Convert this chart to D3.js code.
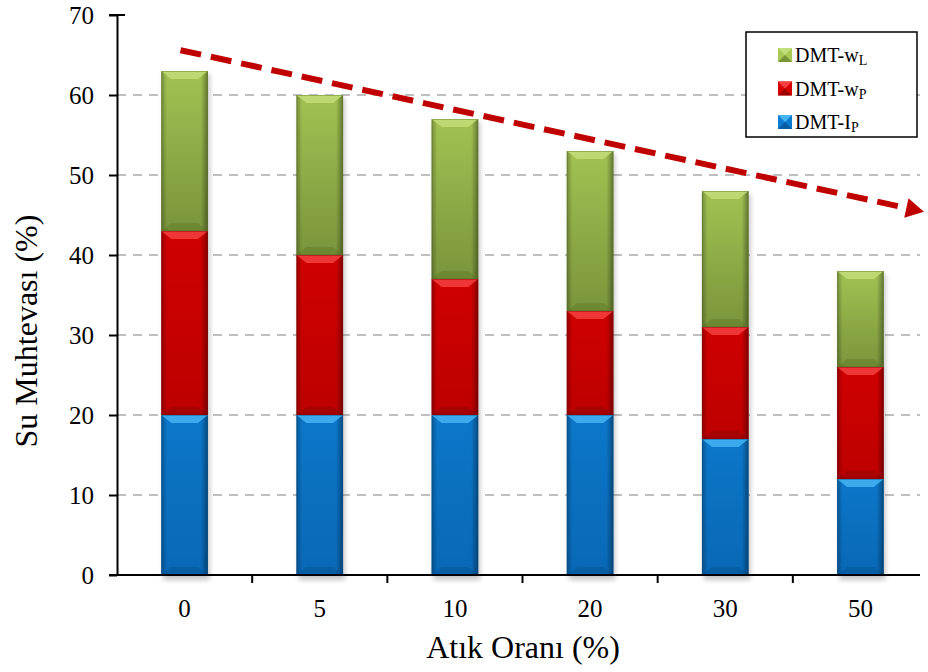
<!DOCTYPE html>
<html>
<head>
<meta charset="utf-8">
<script src="https://cdn.jsdelivr.net/npm/d3@7"></script>
<style>
  html, body { margin: 0; padding: 0; background: #fff; }
  svg { display: block; font-family: "Liberation Serif", "Times New Roman", serif; }
</style>
</head>
<body>
<svg id="chart" width="928" height="672"></svg>
<script>
// Atık oranı (%) categories and the three consistency limits (%)
const categories = ["0", "5", "10", "20", "30", "50"];
const plasticityIndex = [20, 20, 20, 20, 17, 12];   // DMT-Ip
const plasticLimit    = [43, 40, 37, 33, 31, 26];   // DMT-wP
const liquidLimit     = [63, 60, 57, 53, 48, 38];   // DMT-wL
const yTicks = [0, 10, 20, 30, 40, 50, 60, 70];
// Trend arrow: from the first category down past the last one
const trendStart = { cat: 0, offset: -0.03, value: 65.6 };
const trendEnd   = { cat: 5, offset: 0.47, value: 45.4 };

const svg = d3.select("#chart");
const margin = { left: 117, right: 0, top: 15, bottom: 97 };
const W = 928, H = 672;

const x = d3.scaleBand().domain(categories).range([margin.left, W - margin.right]).paddingInner(0).paddingOuter(0);
const y = d3.scaleLinear().domain([0, 70]).range([H - margin.bottom, margin.top]);
const barW = x.bandwidth() * 0.345;

const series = [
  { key: "ip", label: "DMT-I", sub: "P", lo: categories.map(() => 0), hi: plasticityIndex,
    c1: "#0c7cd1", c2: "#096cbd", light: "#45b4f3", dark: "#044a85" },
  { key: "wp", label: "DMT-w", sub: "P", lo: plasticityIndex, hi: plasticLimit,
    c1: "#d80000", c2: "#c50000", light: "#f44040", dark: "#7a0000" },
  { key: "wl", label: "DMT-w", sub: "L", lo: plasticLimit, hi: liquidLimit,
    c1: "#a8ca55", c2: "#7f9b3e", light: "#c2de78", dark: "#566f22" }
];

const defs = svg.append("defs");
series.forEach(s => {
  const v = defs.append("linearGradient").attr("id", "v-" + s.key).attr("x1", 0).attr("x2", 0).attr("y1", 0).attr("y2", 1);
  v.append("stop").attr("offset", 0).attr("stop-color", s.c1);
  v.append("stop").attr("offset", 1).attr("stop-color", s.c2);
});
const side = defs.append("linearGradient").attr("id", "side").attr("x1", 0).attr("x2", 1).attr("y1", 0).attr("y2", 0);
side.append("stop").attr("offset", 0).attr("stop-color", "#000").attr("stop-opacity", 0.3);
side.append("stop").attr("offset", 0.12).attr("stop-color", "#000").attr("stop-opacity", 0.04);
side.append("stop").attr("offset", 0.85).attr("stop-color", "#000").attr("stop-opacity", 0.04);
side.append("stop").attr("offset", 1).attr("stop-color", "#000").attr("stop-opacity", 0.4);
const shadow = defs.append("filter").attr("id", "shadow").attr("x", -0.3).attr("y", -0.3).attr("width", 1.6).attr("height", 1.6);
shadow.append("feGaussianBlur").attr("stdDeviation", 2.5);

// Horizontal dashed gridlines
svg.append("g").selectAll("line").data(yTicks.filter(t => t > 0 && t < 70)).join("line")
  .attr("x1", margin.left).attr("x2", W - 8)
  .attr("y1", d => y(d)).attr("y2", d => y(d))
  .attr("stroke", "#bfbfbf").attr("stroke-width", 2).attr("stroke-dasharray", "9,7");

// Soft shadow under each bar
svg.append("g").selectAll("rect").data(categories).join("rect")
  .attr("x", d => x(d) + (x.bandwidth() - barW) / 2 + 2)
  .attr("y", (d, i) => y(liquidLimit[i]) + 3)
  .attr("width", barW)
  .attr("height", (d, i) => y(0) - y(liquidLimit[i]) + 2)
  .attr("fill", "#000").attr("opacity", 0.22).attr("filter", "url(#shadow)");

// Bevelled stacked segments
function bevel(g, x0, y0, w, h, s) {
  const b = Math.min(8, h / 3), inset = Math.min(10, w / 4);
  g.append("rect").attr("x", x0).attr("y", y0).attr("width", w).attr("height", h).attr("fill", "url(#v-" + s.key + ")");
  g.append("rect").attr("x", x0).attr("y", y0).attr("width", w).attr("height", h).attr("fill", "url(#side)");
  // top highlight facet
  g.append("path")
    .attr("d", `M${x0},${y0}H${x0 + w}L${x0 + w - inset},${y0 + b}H${x0 + inset}Z`)
    .attr("fill", s.light).attr("opacity", 0.85);
  // bottom shaded facet
  g.append("path")
    .attr("d", `M${x0},${y0 + h}H${x0 + w}L${x0 + w - inset},${y0 + h - b}H${x0 + inset}Z`)
    .attr("fill", s.dark).attr("opacity", 0.35);
  g.append("rect").attr("x", x0 + 0.5).attr("y", y0 + 0.5).attr("width", w - 1).attr("height", h - 1)
    .attr("fill", "none").attr("stroke", s.dark).attr("stroke-opacity", 0.4).attr("stroke-width", 1);
}

const bars = svg.append("g");
series.forEach(s => {
  categories.forEach((c, i) => {
    const x0 = x(c) + (x.bandwidth() - barW) / 2;
    const y0 = y(s.hi[i]);
    const h = y(s.lo[i]) - y(s.hi[i]);
    bevel(bars.append("g"), x0, y0, barW, h, s);
  });
});

// Y axis
const yAxis = svg.append("g").attr("transform", `translate(${margin.left},0)`)
  .call(d3.axisLeft(y).tickValues(yTicks).tickSize(8).tickSizeOuter(0).tickPadding(15));
yAxis.select(".domain").attr("stroke", "#000").attr("stroke-width", 2);
yAxis.selectAll(".tick line").attr("stroke", "#000").attr("stroke-width", 2);
yAxis.selectAll(".tick text").attr("font-size", 25).attr("fill", "#000").attr("font-family", "Liberation Serif");
// cap at the top of the y axis
svg.append("line").attr("x1", margin.left - 8).attr("x2", margin.left + 8).attr("y1", y(70)).attr("y2", y(70))
  .attr("stroke", "#000").attr("stroke-width", 2);

// X axis with ticks on category boundaries
const xAxisG = svg.append("g").attr("transform", `translate(0,${y(0)})`);
xAxisG.append("line").attr("x1", margin.left - 8).attr("x2", W - 8).attr("stroke", "#000").attr("stroke-width", 2);
xAxisG.selectAll("line.tk").data(categories.slice(1)).join("line").attr("class", "tk")
  .attr("x1", d => x(d)).attr("x2", d => x(d)).attr("y1", 0).attr("y2", 8)
  .attr("stroke", "#000").attr("stroke-width", 2);
xAxisG.selectAll("text").data(categories).join("text")
  .attr("x", d => x(d) + x.bandwidth() / 2).attr("y", 42)
  .attr("text-anchor", "middle").attr("font-size", 25).attr("fill", "#000").text(d => d);

// Axis titles
svg.append("text").attr("x", 523).attr("y", 658)
  .attr("text-anchor", "middle").attr("font-size", 32).attr("fill", "#000").text("Atık Oranı (%)");
svg.append("text").attr("transform", `translate(37,331) rotate(-90)`)
  .attr("text-anchor", "middle").attr("font-size", 32).attr("fill", "#000").text("Su Muhtevası (%)");

// Decreasing trend arrow
const ax1 = x(categories[trendStart.cat]) + x.bandwidth() * (0.5 + trendStart.offset);
const ay1 = y(trendStart.value);
const ax2 = x(categories[trendEnd.cat]) + x.bandwidth() * (0.5 + trendEnd.offset);
const ay2 = y(trendEnd.value);
const ang = Math.atan2(ay2 - ay1, ax2 - ax1);
const headL = 18, headW = 10;
const bx = ax2 - headL * Math.cos(ang), by = ay2 - headL * Math.sin(ang);
svg.append("line").attr("x1", ax1).attr("y1", ay1).attr("x2", bx).attr("y2", by)
  .attr("stroke", "#c00000").attr("stroke-width", 6).attr("stroke-dasharray", "21,10");
svg.append("path")
  .attr("d", `M${ax2},${ay2}L${bx + headW * Math.sin(ang)},${by - headW * Math.cos(ang)}L${bx - headW * Math.sin(ang)},${by + headW * Math.cos(ang)}Z`)
  .attr("fill", "#c00000");

// Legend
const lg = svg.append("g").attr("transform", "translate(746,32)");
lg.append("rect").attr("width", 171).attr("height", 105).attr("fill", "#fff").attr("stroke", "#000").attr("stroke-width", 1.5);
const legendItems = [series[2], series[1], series[0]];
legendItems.forEach((s, i) => {
  const row = lg.append("g").attr("transform", `translate(32,${23 + i * 33.5})`);
  const sz = 14;
  const sw = row.append("g").attr("transform", `translate(0,${-sz / 2})`);
  sw.append("rect").attr("width", sz).attr("height", sz).attr("fill", s.c1);
  sw.append("path").attr("d", `M0,0H${sz}L${sz / 2},${sz / 2}Z`).attr("fill", s.light);
  sw.append("path").attr("d", `M0,${sz}H${sz}L${sz / 2},${sz / 2}Z`).attr("fill", s.dark).attr("opacity", 0.6);
  const t = row.append("text").attr("x", sz + 3).attr("y", 7).attr("font-size", 20).attr("fill", "#000");
  t.append("tspan").text(s.label);
  t.append("tspan").attr("font-size", 14).attr("dy", 3).text(s.sub);
});
</script>
</body>
</html>
